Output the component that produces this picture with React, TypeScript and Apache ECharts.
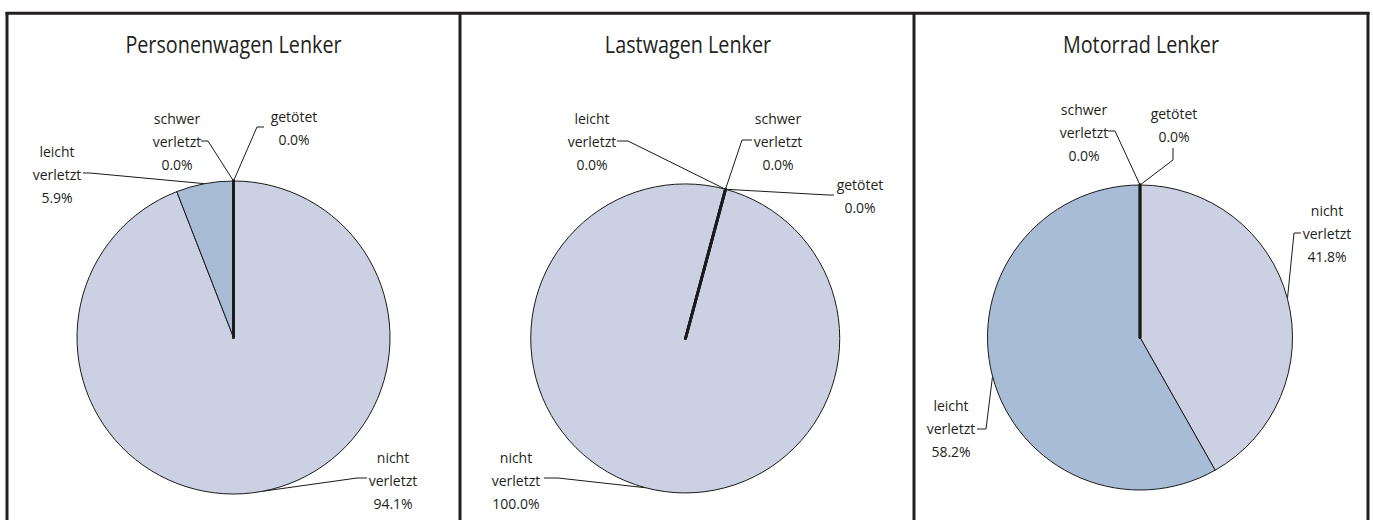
import React, { useEffect, useRef } from 'react';
import * as echarts from 'echarts';

// ---- data ----
const categories = ['nicht verletzt', 'leicht verletzt', 'schwer verletzt', 'getötet'];
const panelTitles = ['Personenwagen Lenker', 'Lastwagen Lenker', 'Motorrad Lenker'];
const personenwagenValues = [94.1, 5.9, 0.0, 0.0];
const lastwagenValues = [100.0, 0.0, 0.0, 0.0];
const motorradValues = [41.8, 58.2, 0.0, 0.0];

// ---- styles / layout ----
const sliceColors = ['#CBD1E2', '#A9BCD6', '#8DA2C6', '#6F87B2'];
const TEXT_COLOR = '#231F20';
const FRAME_COLOR = '#231F20';

type Pt = [number, number];
interface LabelPos { x: number; y: number; line: Pt[] }
interface Panel { values: number[]; cx: number; cy: number; r: number; startAngle: number; titleX: number; labels: LabelPos[] }

const panels: Panel[] = [
  {
    values: personenwagenValues, cx: 233.5, cy: 337.5, r: 156.5, startAngle: 90, titleX: 233.5,
    labels: [
      { x: 393, y: 480, line: [[357, 478], [367, 478]] },
      { x: 57, y: 174, line: [[90, 173], [83, 173]] },
      { x: 177, y: 141, line: [[208, 141], [201, 141]] },
      { x: 294, y: 128, line: [[257, 127], [264, 127]] },
    ],
  },
  {
    values: lastwagenValues, cx: 685.5, cy: 338.5, r: 154.5, startAngle: 75, titleX: 688,
    labels: [
      { x: 516, y: 480, line: [[558, 478], [544, 478]] },
      { x: 592, y: 141, line: [[628, 141], [617, 141]] },
      { x: 778, y: 141, line: [[742, 140], [752, 140]] },
      { x: 860, y: 196, line: [[828, 195], [834, 195]] },
    ],
  },
  {
    values: motorradValues, cx: 1140, cy: 337.5, r: 152.5, startAngle: 90, titleX: 1141,
    labels: [
      { x: 1327, y: 233, line: [[1294, 233], [1301, 233]] },
      { x: 951, y: 428, line: [[986, 429], [977, 429]] },
      { x: 1084, y: 132, line: [[1115, 131], [1108, 131]] },
      { x: 1174, y: 125, line: [[1173, 160], [1173, 148]] },
    ],
  },
];

function edgePoint(p: Panel, idx: number): Pt {
  const total = p.values.reduce((a, b) => a + b, 0);
  let cum = 0;
  for (let i = 0; i < idx; i++) cum += p.values[i];
  const frac = (cum + p.values[idx] / 2) / total;
  const a = ((90 - p.startAngle) + frac * 360) * Math.PI / 180;
  return [p.cx + p.r * Math.sin(a), p.cy - p.r * Math.cos(a)];
}

export default function App() {
  const ref = useRef<HTMLDivElement>(null);
  useEffect(() => {
    if (!ref.current) return;
    const chart = echarts.init(ref.current, undefined, { renderer: 'svg' });

    const series = panels.map((p) => ({
      type: 'pie',
      silent: true,
      center: [p.cx, p.cy],
      radius: p.r,
      startAngle: p.startAngle,
      clockwise: true,
      avoidLabelOverlap: false,
      minShowLabelAngle: 0,
      data: categories.map((name, i) => ({
        name,
        value: p.values[i],
        itemStyle: {
          color: sliceColors[i],
          borderColor: '#1A1A1A',
          borderWidth: p.values[i] === 0 ? 2.8 : 1,
        },
      })),
      label: {
        show: true,
        position: 'outside',
        color: TEXT_COLOR,
        fontFamily: '"Open Sans", "Noto Sans", sans-serif',
        fontSize: 14,
        lineHeight: 23,
        align: 'center',
        verticalAlign: 'middle',
        formatter: (params: any) =>
          String(params.name).replace(' ', '\n') + '\n' + Number(params.value).toFixed(1) + '%',
      },
      labelLine: {
        show: true,
        length: 10,
        length2: 10,
        smooth: false,
        lineStyle: { color: '#1A1A1A', width: 1 },
      },
      labelLayout: (params: any) => {
        const L = p.labels[params.dataIndex];
        return {
          x: L.x,
          y: L.y,
          align: 'center',
          verticalAlign: 'middle',
          labelLinePoints: [edgePoint(p, params.dataIndex), L.line[0], L.line[1]],
        };
      },
    }));

    const frame: any[] = [
      [5.5, 13.3, 1369.5, 13.3],
      [7, 12, 7, 520],
      [460, 12, 460, 520],
      [914, 12, 914, 520],
      [1368, 12, 1368, 520],
    ].map(([x1, y1, x2, y2]) => ({
      type: 'line',
      shape: { x1, y1, x2, y2 },
      style: { stroke: FRAME_COLOR, lineWidth: 3 },
      silent: true,
    }));

    const titles: any[] = panels.map((p, i) => ({
      type: 'text',
      x: p.titleX,
      y: 44,
      scaleX: 0.86,
      silent: true,
      style: {
        text: panelTitles[i],
        fill: TEXT_COLOR,
        font: '23px "Open Sans", sans-serif',
        textAlign: 'center',
        textVerticalAlign: 'middle',
      },
    }));

    chart.setOption({
      animation: false,
      backgroundColor: '#ffffff',
      graphic: [...frame, ...titles],
      series,
    } as any);

    return () => chart.dispose();
  }, []);

  return (
    <div
      ref={ref}
      style={{ position: 'absolute', left: 0, top: 0, width: 1373, height: 520, background: '#fff' }}
    />
  );
}
